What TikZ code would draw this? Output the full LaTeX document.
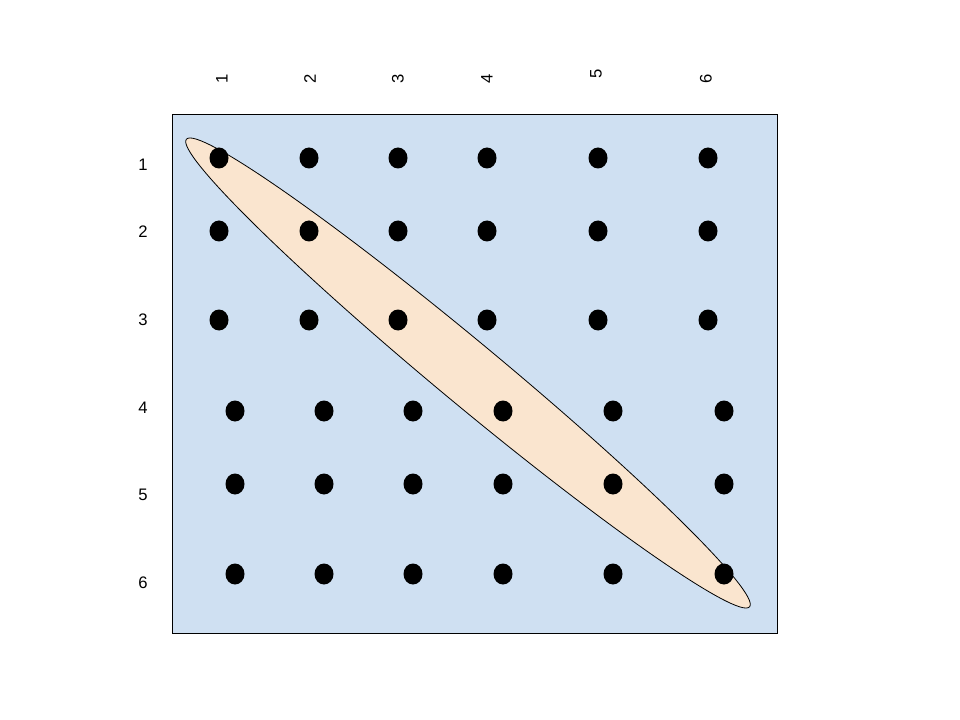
\documentclass[tikz,border=0pt]{standalone}
\usepackage{fontspec}
\setmainfont{Liberation Sans}
\usetikzlibrary{shapes.geometric}
\definecolor{bgblue}{RGB}{207,224,242}
\definecolor{peach}{RGB}{250,229,207}
\tikzset{
  dot/.style={ellipse, fill=black, inner sep=0pt, minimum width=14.25pt, minimum height=15.75pt},
  lbl/.style={inner sep=0pt, font=\fontsize{12.5}{14}\selectfont},
  clbl/.style={lbl, rotate=90},
}
\begin{document}
\begin{tikzpicture}[x=0.75pt,y=-0.75pt]
\useasboundingbox (0,0) rectangle (960,720);
\node[draw=black, fill=bgblue, line width=0.8pt, minimum width=453.75pt, minimum height=389.25pt, inner sep=0pt, anchor=north west] (board) at (172,114) {};
\node[ellipse, draw=black, fill=peach, line width=0.6pt, inner sep=0pt, minimum width=549pt, minimum height=47pt, rotate=-39.7] (diag) at (468,373) {};
% dots
\foreach \r/\y in {1/158,2/231,3/320}{
  \foreach \c/\x in {1/219,2/309,3/398,4/487,5/598,6/708}{
    \node[dot] (d\r\c) at (\x,\y) {};
  }
}
\foreach \r/\y in {4/411,5/484,6/574}{
  \foreach \c/\x in {1/235,2/324,3/413,4/503,5/613,6/724}{
    \node[dot] (d\r\c) at (\x,\y) {};
  }
}
% row labels
\foreach \r/\y in {1/165,2/232,3/320,4/408,5/495,6/583}{
  \node[lbl] (r\r) at (143,\y) {\r};
}
% column labels
\foreach \c/\x/\y in {1/222/79,2/310/79,3/398/79,4/487/79,5/596/74,6/706/79}{
  \node[clbl] (c\c) at (\x,\y) {\c};
}
\end{tikzpicture}
\end{document}
